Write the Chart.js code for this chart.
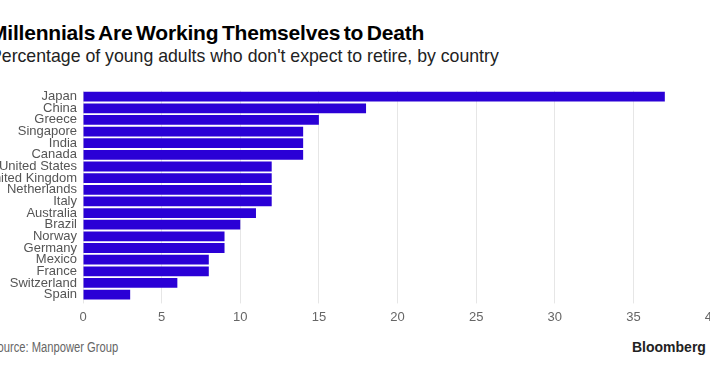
<!DOCTYPE html>
<html>
<head>
<meta charset="utf-8">
<script src="https://cdn.jsdelivr.net/npm/chart.js@4.4.1/dist/chart.umd.min.js"></script>
<style>
    html, body { margin: 0; padding: 0; background: #fff; overflow: hidden; width: 710px; height: 375px; }
    body { position: relative; font-family: "Liberation Sans", Arial, sans-serif; }
    .titre { position: absolute; left: -10px; top: 22px; font-size: 21px; line-height: 1; font-weight: bold; color: #000; letter-spacing: -0.2px; word-spacing: -2px; white-space: nowrap; }
    .sous-titre { position: absolute; left: -10px; top: 48px; font-size: 17.7px; line-height: 1; color: #222; white-space: nowrap; }
    .source { position: absolute; left: -10px; top: 340px; font-size: 14px; line-height: 1; color: #666; white-space: nowrap; transform: scaleX(0.8); transform-origin: left top; }
    .marque { position: absolute; left: 632px; top: 340px; font-size: 14px; line-height: 1; font-weight: bold; color: #222; white-space: nowrap; }
    #zone { position: absolute; left: -10px; top: 77px; width: 740px; height: 254px; }
</style>
</head>
<body>
<div class="titre">Millennials Are Working Themselves to Death</div>
<div class="sous-titre">Percentage of young adults who don't expect to retire, by country</div>
<div id="zone"><canvas id="graphique"></canvas></div>
<div class="source">Source: Manpower Group</div>
<div class="marque">Bloomberg</div>

<script>
// Données
const pays = ['Japan', 'China', 'Greece', 'Singapore', 'India', 'Canada', 'United States',
    'United Kingdom', 'Netherlands', 'Italy', 'Australia', 'Brazil', 'Norway', 'Germany',
    'Mexico', 'France', 'Switzerland', 'Spain'];
const pourcentages = [37, 18, 15, 14, 14, 14, 12, 12, 12, 12, 11, 10, 9, 9, 8, 8, 6, 3];
const graduations = [0, 5, 10, 15, 20, 25, 30, 35, 40];

const ctx = document.getElementById('graphique').getContext('2d');
const chart = new Chart(ctx, {
    type: 'bar',
    data: {
        labels: pays,
        datasets: [{
            data: pourcentages,
            backgroundColor: '#2a00d6',
            borderWidth: 0,
            barPercentage: 0.84,
            categoryPercentage: 1
        }]
    },
    options: {
        indexAxis: 'y',
        responsive: true,
        maintainAspectRatio: false,
        animation: false,
        layout: { padding: { top: 10, right: 18, bottom: 0, left: 0 } },
        plugins: {
            legend: { display: false },
            tooltip: { enabled: false }
        },
        scales: {
            x: {
                min: 0,
                max: 40,
                afterBuildTicks: function(scale) {
                    scale.ticks = graduations.map(v => ({ value: v }));
                },
                border: { display: false },
                grid: { color: '#e6e6e6', drawTicks: true, tickLength: 3, tickColor: '#e6e6e6' },
                ticks: {
                    color: '#666',
                    padding: 6,
                    maxRotation: 0,
                    font: { family: '"Liberation Sans", Arial, sans-serif', size: 13 }
                }
            },
            y: {
                afterFit: function(scale) { scale.width = 93; },
                border: { display: false },
                grid: { display: false, drawTicks: false, tickLength: 0 },
                ticks: {
                    color: '#555',
                    padding: 6,
                    autoSkip: false,
                    font: { family: '"Liberation Sans", Arial, sans-serif', size: 13 }
                }
            }
        }
    }
});
</script>
</body>
</html>
